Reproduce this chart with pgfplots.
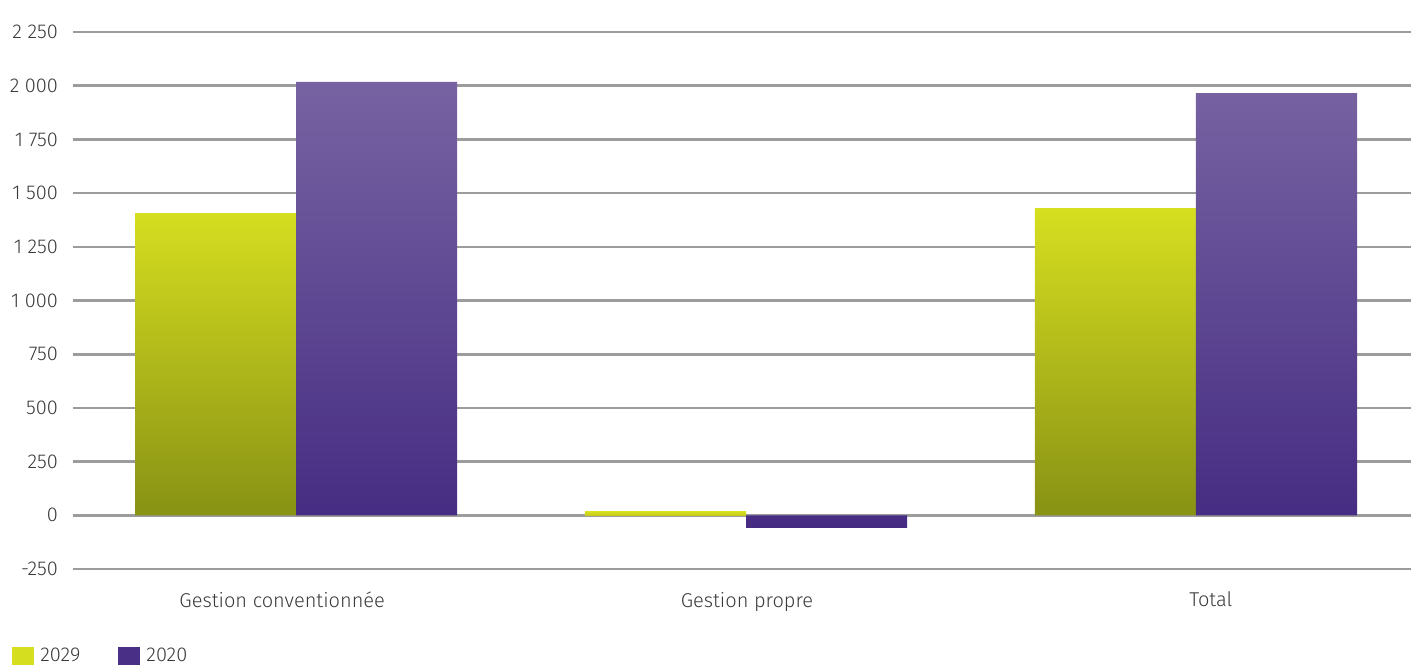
\documentclass[border=0pt]{standalone}
\usepackage{fontspec}
\setmainfont{Fira Sans}[UprightFont=* Light]
\usepackage{pgfplots}
\pgfplotsset{compat=1.18}
\definecolor{yTop}{HTML}{D7DF20}
\definecolor{yBot}{HTML}{889214}
\definecolor{yMid}{HTML}{C4CC1A}
\definecolor{pTop}{HTML}{7763A2}
\definecolor{pBot}{HTML}{452B82}
\definecolor{pLeg}{HTML}{4A2F87}
\definecolor{yLeg}{HTML}{D6DF1F}
\definecolor{gridc}{HTML}{9C9C9C}
\definecolor{txt}{HTML}{3A3A3A}
\begin{document}
\begin{tikzpicture}
\begin{axis}[
  at={(0,0)}, anchor=south west,
  scale only axis, width=669pt, height=268.5pt,
  xmin=-0.496, xmax=2.478,
  ymin=-250, ymax=2250,
  axis line style={draw=none},
  major tick length=0pt,
  xtick={-0.031,1.002,2.033},
  xticklabels={Gestion conventionnée, Gestion propre, Total},
  x tick label style={font=\fontsize{10}{12}\selectfont, text=txt, yshift=-8pt},
  ytick={-250,0,250,500,750,1000,1250,1500,1750,2000,2250},
  yticklabels={-250,0,250,500,750,1 000,1 250,1 500,1 750,2 000,2 250},
  y tick label style={font=\fontsize{10}{12}\selectfont, text=txt, xshift=-4pt},
  ymajorgrids, grid style={gridc, line width=1.3pt},
  legend columns=2,
  legend style={at={(0,0)}, anchor=north west, xshift=-30.5pt, yshift=-37.5pt, draw=none, fill=none,
    font=\fontsize{10}{12}\selectfont, text=txt,
    inner sep=0pt,
    /tikz/every odd column/.append style={column sep=1pt},
    /tikz/every even column/.append style={column sep=17pt}},
  legend cell align=left,
  legend image code/.code={\fill[#1] (0pt,-5pt) rectangle (11pt,5pt);},
]
\addlegendimage{fill=yLeg, draw=none}
\addlegendentry{2029}
\addlegendimage{fill=pLeg, draw=none}
\addlegendentry{2020}
\addplot[ybar, bar width=0.358, bar shift=-0.179, draw=none, top color=yTop, bottom color=yBot, forget plot]
  coordinates {(0,1407) (2,1430)};
\addplot[ybar, bar width=0.358, bar shift=-0.179, draw=none, top color=yTop, bottom color=yMid, forget plot]
  coordinates {(1,18)};
\addplot[ybar, bar width=0.358, bar shift=0.179, draw=none, top color=pTop, bottom color=pBot, forget plot]
  coordinates {(0,2018) (1,-59) (2,1966)};
\end{axis}
\pgfresetboundingbox
\path[use as bounding box] (-36.5pt,-47.5pt) rectangle (669pt,284.5pt);
\end{tikzpicture}
\end{document}
